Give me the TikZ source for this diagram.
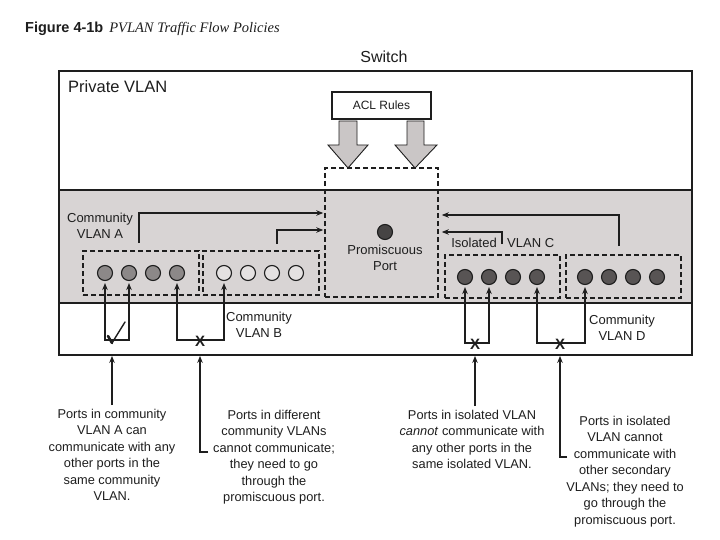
\documentclass[tikz,border=0pt]{standalone}
\usepackage{fontspec}
\setmainfont{Liberation Sans}
\newfontfamily\serifit{Liberation Serif}
\usetikzlibrary{arrows.meta,calc}
\definecolor{band}{RGB}{216,212,212}
\definecolor{dotA}{RGB}{140,136,136}
\definecolor{dotB}{RGB}{228,225,225}
\definecolor{dotC}{RGB}{88,84,84}
\definecolor{dotP}{RGB}{70,68,68}
\definecolor{fatgray}{RGB}{202,198,198}
\definecolor{ink}{RGB}{30,30,30}
\begin{document}
\begin{tikzpicture}[x=1pt,y=-1pt,
  lbl/.style={font=\fontsize{13}{16}\selectfont, align=center, inner sep=0pt, text=ink},
  note/.style={font=\fontsize{12.8}{16.5}\selectfont, align=center, inner sep=0pt, anchor=north, text=ink},
  dsh/.style={draw=ink, dash pattern=on 5pt off 3pt, line width=1.5pt, inner sep=0pt},
  portdot/.style={circle, draw=ink, line width=1.1pt, minimum size=15pt, inner sep=0pt},
  pa/.style={portdot, fill=dotA},
  pb/.style={portdot, fill=dotB},
  pc/.style={portdot, fill=dotC},
  tip/.tip={Stealth[length=7pt,width=5.5pt]},
  arr/.style={draw=ink, line width=1.6pt, -tip},
  bracket/.style={draw=ink, line width=1.6pt, tip-tip, shorten <=2pt, shorten >=2pt},
  xmark/.style={font=\bfseries\fontsize{15}{15}\selectfont, inner sep=0pt, text=ink},
  fat/.style={fill=fatgray, draw=ink, line width=0.9pt, line join=miter}
]
\useasboundingbox (0,0) rectangle (720,540);
\fill[white] (0,0) rectangle (720,540);

% title
\node[anchor=base west, inner sep=0pt, font=\fontsize{14.5}{17}\selectfont, text=ink] (title) at (25,33)
  {\textbf{Figure 4-1b}\hspace{6pt}{\serifit\itshape PVLAN Traffic Flow Policies}};
\node[anchor=base, inner sep=0pt, font=\fontsize{16}{19}\selectfont, text=ink] (switch) at (384,63) {Switch};

% gray band and frame
\fill[band] (59,190) rectangle (692,303);
\draw[ink, line width=1.6pt] (59,190) -- (692,190);
\draw[ink, line width=1.6pt] (59,303) -- (692,303);
\node[draw=ink, line width=1.8pt, minimum width=633pt, minimum height=284pt, inner sep=0pt] (frame) at (375.5,213) {};

\node[anchor=base west, inner sep=0pt, font=\fontsize{16.5}{19}\selectfont, text=ink] (pvlan) at (68,93) {Private VLAN};

% ACL rules
\node[draw=ink, line width=1.1pt, fill=white, minimum width=99pt, minimum height=27pt, inner sep=0pt,
      font=\fontsize{12}{14}\selectfont, text=ink] (acl) at (381.5,105.5) {ACL Rules};
\filldraw[fat] (339,121) -- (357,121) -- (357,145) -- (368,145) -- (348,168) -- (328,145) -- (339,145) -- cycle;
\filldraw[fat] (407,121) -- (424,121) -- (424,145) -- (437,145) -- (415,168) -- (395,145) -- (407,145) -- cycle;

% dashed boxes
\node[dsh, minimum width=113pt, minimum height=129pt] (prom) at (381.5,232.5) {};
\node[dsh, minimum width=116pt, minimum height=44pt] (boxA) at (141,273) {};
\node[dsh, minimum width=116pt, minimum height=44pt] (boxB) at (261,273) {};
\node[dsh, minimum width=115pt, minimum height=43pt] (boxC) at (502.5,276.5) {};
\node[dsh, minimum width=115pt, minimum height=43pt] (boxD) at (623.5,276.5) {};

% promiscuous port
\node[portdot, fill=dotP] (pp) at (385,232) {};
\node[lbl] (plbl) at (385,258) {Promiscuous\\Port};

% ports
\node[pa] (a1) at (105,273) {};
\node[pa] (a2) at (129,273) {};
\node[pa] (a3) at (153,273) {};
\node[pa] (a4) at (177,273) {};
\node[pb] (b1) at (224,273) {};
\node[pb] (b2) at (248,273) {};
\node[pb] (b3) at (272,273) {};
\node[pb] (b4) at (296,273) {};
\node[pc] (c1) at (465,277) {};
\node[pc] (c2) at (489,277) {};
\node[pc] (c3) at (513,277) {};
\node[pc] (c4) at (537,277) {};
\node[pc] (d1) at (585,277) {};
\node[pc] (d2) at (609,277) {};
\node[pc] (d3) at (633,277) {};
\node[pc] (d4) at (657,277) {};

% labels
\node[lbl] (lblA) at (100,226) {Community\\VLAN A};
\node[lbl] (lblB) at (259,325) {Community\\VLAN B};
\node[lbl] (lblD) at (622,328) {Community\\VLAN D};
\node[lbl, anchor=east] (isoL) at (497,243) {Isolated};
\node[lbl, anchor=west] (isoR) at (507,243) {VLAN C};

% flows to promiscuous port
\coordinate (sA) at (139,243);
\coordinate (sB) at (277,244);
\coordinate (sC) at (502,244);
\coordinate (sD) at (619,246);
\draw[arr, shorten >=1pt] (sA) |- ([yshift=19.5pt]prom.west);
\draw[arr, shorten >=1pt] (sB) |- ([yshift=2.5pt]prom.west);
\draw[arr, shorten >=3pt] (sC) |- ([yshift=0.5pt]prom.east);
\draw[arr, shorten >=3pt] (sD) |- ([yshift=17.5pt]prom.east);

% brackets between ports
\coordinate (chk) at (112,340);
\coordinate (xBc) at (200,340);
\coordinate (xCc) at (475,343);
\coordinate (xDc) at (560,343);
\draw[bracket] (a1.south) -- (a1.south |- chk) -- (a2.south |- chk) -- (a2.south);
\draw[bracket] (a4.south) -- (a4.south |- xBc) -- (b1.south |- xBc) -- (b1.south);
\draw[bracket] (c1.south) -- (c1.south |- xCc) -- (c2.south |- xCc) -- (c2.south);
\draw[bracket] (c4.south) -- (c4.south |- xDc) -- (d1.south |- xDc) -- (d1.south);
\node[xmark] (xB) at ([yshift=-1pt]xBc) {X};
\node[xmark] (xC) at ([yshift=-1pt]xCc) {X};
\node[xmark] (xD) at ([yshift=-1pt]xDc) {X};
\draw[ink, line width=2.6pt, line cap=round] (108,336) -- (112,343);
\draw[ink, line width=1.4pt, line cap=round] (112,343) -- (125,322);

% notes
\node[note] (t1) at (112,409) {Ports in community\\VLAN A can\\communicate with any\\other ports in the\\same community\\VLAN.};
\node[note] (t2) at (274,410) {Ports in different\\community VLANs\\cannot communicate;\\they need to go\\through the\\promiscuous port.};
\node[note] (t3) at (472,410) {Ports in isolated VLAN\\\emph{cannot} communicate with\\any other ports in the\\same isolated VLAN.};
\node[note] (t4) at (625,416) {Ports in isolated\\VLAN cannot\\communicate with\\other secondary\\VLANs; they need to\\go through the\\promiscuous port.};

\coordinate (t2k) at (208,452);
\coordinate (t4k) at (567,457);
\draw[arr] ([yshift=4pt]chk |- t1.north) -- (chk |- frame.south);
\draw[arr] (t2k) -| (xBc |- frame.south);
\draw[arr] ([yshift=4pt]xCc |- t3.north) -- (xCc |- frame.south);
\draw[arr] (t4k) -| (xDc |- frame.south);
\end{tikzpicture}
\end{document}
